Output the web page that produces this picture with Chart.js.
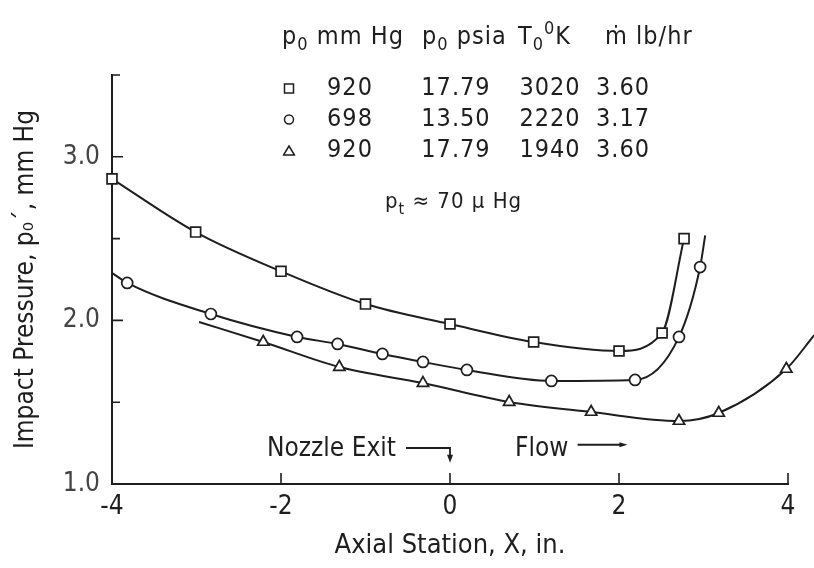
<!DOCTYPE html>
<html>
<head>
<meta charset="utf-8">
<script src="https://cdn.jsdelivr.net/npm/chart.js@4.4.1/dist/chart.umd.min.js"></script>
<style>
  body { margin: 0; background: #fff; }
  #wrap { position: relative; width: 814px; height: 568px; overflow: hidden; }
  #myChart { position: absolute; left: 0; top: 0; }
  .lbl {
    position: absolute;
    font-family: "Liberation Sans Narrow", "DejaVu Sans Condensed", "Liberation Sans", sans-serif;
    font-size: 25px;
    color: #1e1e1e;
    white-space: nowrap;
    line-height: 1;
    letter-spacing: 1px;
  }
  .lbl sub { font-size: 0.72em; vertical-align: -0.35em; line-height: 0; }
  .lbl sup { font-size: 0.72em; vertical-align: 0.55em; line-height: 0; }
  .c { transform: translate(-50%, -50%); }
</style>
</head>
<body>
<div id="wrap">
  <canvas id="myChart" width="814" height="568"></canvas>
</div>
<script>
const FONT = '"Liberation Sans Narrow", "DejaVu Sans Condensed", "Liberation Sans", sans-serif';
const INK = '#1e1e1e';

// run conditions (legend table)
const runSymbols = ['square', 'circle', 'triangle'];
const p0mmHg = ['920', '698', '920'];
const p0psia = ['17.79', '13.50', '17.79'];
const T0K = ['3020', '2220', '1940'];
const mdot = ['3.60', '3.17', '3.60'];

const squareX = [-4.0, -3.01, -2.0, -1.0, 0.0, 0.99, 2.0, 2.51, 2.77];
const squareY = [2.865, 2.54, 2.30, 2.10, 1.978, 1.868, 1.813, 1.923, 2.50];

const circleX = [-3.82, -2.83, -1.81, -1.33, -0.80, -0.32, 0.20, 1.20, 2.19, 2.71, 2.96];
const circleY = [2.229, 2.039, 1.899, 1.856, 1.795, 1.746, 1.697, 1.630, 1.636, 1.899, 2.326];

const triangleX = [-2.21, -1.31, -0.32, 0.70, 1.67, 2.71, 3.18, 3.98];
const triangleY = [1.868, 1.715, 1.617, 1.501, 1.440, 1.385, 1.434, 1.703];

// where the faired curves start and stop
const circleCurveEnds = [{x: -4.0, y: 2.29}, {x: 3.02, y: 2.52}];
const triangleCurveEnds = [{x: -2.97, y: 1.99}, {x: 4.31, y: 1.91}];

// axis ticks
const xTickValues = [-4, -2, 0, 2, 4];
const yTickValues = [1.0, 1.5, 2.0, 2.5, 3.0, 3.5];
const yLabelValues = [1.0, 2.0, 3.0];

function pts(xs, ys) {
    return xs.map((v, i) => ({x: v, y: ys[i]}));
}

function markerSet(xs, ys, style, r) {
    return {
        data: pts(xs, ys),
        showLine: false,
        pointStyle: style,
        pointRadius: r,
        pointBorderWidth: 1.7,
        pointBorderColor: INK,
        pointBackgroundColor: '#fff',
        clip: false
    };
}

function curveSet(data) {
    return {
        data: data,
        showLine: true,
        pointRadius: 0,
        borderColor: INK,
        borderWidth: 2,
        cubicInterpolationMode: 'monotone',
        clip: false
    };
}

// legend table as html text
const wrap = document.getElementById('wrap');
function addLabel(html, left, top, center, size) {
    const d = document.createElement('div');
    d.className = 'lbl' + (center ? ' c' : '');
    d.innerHTML = html;
    d.style.left = left + 'px';
    d.style.top = top + 'px';
    if (size) d.style.fontSize = size + 'px';
    wrap.appendChild(d);
}

const headers = ['p<sub>0</sub> mm Hg', 'p<sub>0</sub> psia', 'T<sub>0</sub><sup>0</sup>K', '&#7745; lb/hr'];
const headerLeft = [282, 422, 518, 605];
headers.forEach((h, i) => addLabel(h, headerLeft[i], 23));

const colCenter = [350, 456, 550, 623];
const rowCenter = [86, 117, 148];
const symbolSvg = {
    square: '<svg width="12" height="12"><rect x="1.5" y="1.5" width="9" height="9" fill="none" stroke="#1e1e1e" stroke-width="1.5"/></svg>',
    circle: '<svg width="12" height="12"><circle cx="6" cy="6" r="4.5" fill="none" stroke="#1e1e1e" stroke-width="1.5"/></svg>',
    triangle: '<svg width="13" height="12"><polygon points="6.5,1.5 12,10.5 1,10.5" fill="none" stroke="#1e1e1e" stroke-width="1.5"/></svg>'
};
runSymbols.forEach((s, r) => {
    addLabel(symbolSvg[s], 289, rowCenter[r], true);
    [p0mmHg, p0psia, T0K, mdot].forEach((col, c) => {
        addLabel(col[r], colCenter[c], rowCenter[r], true);
    });
});

addLabel('p<sub>t</sub> &asymp; 70 &mu; Hg', 385, 190, false, 22);

// inward tick marks
const inwardTicks = {
    id: 'inwardTicks',
    afterDraw(chart) {
        const {ctx, chartArea, scales: {x, y}} = chart;
        ctx.save();
        ctx.strokeStyle = INK;
        ctx.lineWidth = 1.6;
        ctx.beginPath();
        yTickValues.slice(1).forEach(v => {
            const py = y.getPixelForValue(v);
            const len = yLabelValues.includes(v) ? 11 : 8;
            ctx.moveTo(chartArea.left, py);
            ctx.lineTo(chartArea.left + len, py);
        });
        xTickValues.slice(1).forEach(v => {
            const px = x.getPixelForValue(v);
            ctx.moveTo(px, chartArea.bottom);
            ctx.lineTo(px, chartArea.bottom - 11);
        });
        ctx.stroke();
        ctx.restore();
    }
};

// nozzle exit / flow notes
const notes = {
    id: 'notes',
    afterDraw(chart) {
        const {ctx, scales: {x, y}} = chart;
        ctx.save();
        ctx.fillStyle = INK;
        ctx.strokeStyle = INK;
        ctx.lineWidth = 1.8;
        ctx.font = '26px ' + FONT;
        ctx.textBaseline = 'alphabetic';

        ctx.textAlign = 'right';
        ctx.fillText('Nozzle Exit', x.getPixelForValue(-0.64), y.getPixelForValue(1.17));
        ctx.textAlign = 'left';
        ctx.fillText('Flow', x.getPixelForValue(0.77), y.getPixelForValue(1.17));

        // bent arrow down to x = 0
        const ax = x.getPixelForValue(0);
        const ay = y.getPixelForValue(1.22);
        const ab = y.getPixelForValue(1.13);
        ctx.beginPath();
        ctx.moveTo(x.getPixelForValue(-0.52), ay);
        ctx.lineTo(ax, ay);
        ctx.lineTo(ax, ab - 6);
        ctx.stroke();
        ctx.beginPath();
        ctx.moveTo(ax - 3, ab - 8);
        ctx.lineTo(ax + 3, ab - 8);
        ctx.lineTo(ax, ab);
        ctx.closePath();
        ctx.fill();

        // flow arrow
        const fy = y.getPixelForValue(1.24);
        const fe = x.getPixelForValue(2.1);
        ctx.beginPath();
        ctx.moveTo(x.getPixelForValue(1.51), fy);
        ctx.lineTo(fe - 6, fy);
        ctx.stroke();
        ctx.beginPath();
        ctx.moveTo(fe - 8, fy - 2.5);
        ctx.lineTo(fe - 8, fy + 2.5);
        ctx.lineTo(fe, fy);
        ctx.closePath();
        ctx.fill();
        ctx.restore();
    }
};

const ctx = document.getElementById('myChart').getContext('2d');
const myChart = new Chart(ctx, {
    type: 'scatter',
    data: {
        datasets: [
            markerSet(squareX, squareY, 'rect', 7),
            markerSet(circleX, circleY, 'circle', 5.5),
            markerSet(triangleX, triangleY, 'triangle', 6.5),
            curveSet(pts(squareX, squareY)),
            curveSet([circleCurveEnds[0], ...pts(circleX, circleY), circleCurveEnds[1]]),
            curveSet([triangleCurveEnds[0], ...pts(triangleX, triangleY), triangleCurveEnds[1]])
        ]
    },
    options: {
        responsive: false,
        devicePixelRatio: 1,
        animation: false,
        layout: { padding: { top: 75, right: 26, left: 0, bottom: 0 } },
        plugins: {
            legend: { display: false },
            tooltip: { enabled: false }
        },
        scales: {
            x: {
                min: -4,
                max: 4,
                afterBuildTicks: s => { s.ticks = xTickValues.map(v => ({value: v})); },
                afterFit: s => { s.height = 84; },
                grid: { display: true, drawOnChartArea: false, drawTicks: false },
                border: { display: true, color: INK, width: 2 },
                ticks: {
                    color: INK,
                    padding: 8,
                    maxRotation: 0,
                    font: { family: FONT, size: 26 },
                    callback: v => String(v)
                },
                title: {
                    display: true,
                    text: 'Axial Station, X, in.',
                    color: INK,
                    padding: { top: 0, bottom: 6 },
                    font: { family: FONT, size: 27 }
                }
            },
            y: {
                min: 1.0,
                max: 3.5,
                afterBuildTicks: s => { s.ticks = yTickValues.map(v => ({value: v})); },
                afterFit: s => { s.width = 112; },
                grid: { display: true, drawOnChartArea: false, drawTicks: false },
                border: { display: true, color: INK, width: 2 },
                ticks: {
                    color: '#444',
                    padding: 12,
                    font: { family: FONT, size: 26 },
                    callback: v => yLabelValues.includes(v) ? v.toFixed(1) : ''
                },
                title: {
                    display: true,
                    text: 'Impact Pressure, p\u2080\u00b4, mm Hg',
                    color: INK,
                    padding: { top: 11, bottom: 0 },
                    font: { family: FONT, size: 26 }
                }
            }
        }
    },
    plugins: [inwardTicks, notes]
});
</script>
</body>
</html>
